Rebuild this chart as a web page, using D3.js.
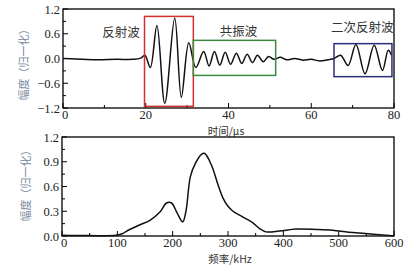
<!DOCTYPE html>
<html>
<head>
<meta charset="utf-8">
<script src="https://cdn.jsdelivr.net/npm/d3@7"></script>
<style>
body { margin: 0; background: #fff; }
svg text { font-family: "Liberation Serif", "Times New Roman", serif; }
.cjk { font-family: "Noto Sans CJK SC", sans-serif; }
</style>
</head>
<body>
<div class="chart"></div>
<script>
var WIDTH = 417,
	HEIGHT = 272;

// time domain waveform (key points)
var timeUs = [0, 3, 8, 13, 17, 18.8, 19.8, 21.1, 22.7, 24.6, 27.0, 28.6, 30.4, 32.1,
	34.0, 35.3, 36.6, 37.9, 39.2, 40.5, 41.9, 43.2, 44.5, 45.8, 47.0, 48.4, 49.7, 51.0,
	52.5, 54, 56, 58, 60, 62, 64, 65.5, 67.1, 68.9, 70.8, 73.0, 75.2, 77.2, 78.6, 79.4];
var amplitude = [0.0, -0.01, -0.03, -0.02, -0.02, 0.01, 0.08, -0.22, 0.8, -1.09, 0.98, -0.94, 0.38, -0.22,
	0.17, -0.18, 0.17, -0.16, 0.15, -0.14, 0.13, -0.12, 0.1, -0.1, 0.08, -0.08, 0.05, -0.02,
	0.03, -0.03, 0.0, -0.04, -0.02, -0.06, -0.03, 0.0, 0.08, -0.17, 0.34, -0.37, 0.32, -0.29, 0.2, 0.08];

// spectrum
var freqKHz = [0, 50, 98, 110, 117, 139, 159, 177, 189, 198, 208, 218, 224, 232, 241, 252, 258,
	270, 282, 291, 300, 309, 327, 345, 357, 369, 393, 423, 460, 489, 518, 548, 585, 600];
var spectrum = [0.01, 0.005, 0.01, 0.03, 0.06, 0.13, 0.19, 0.29, 0.40, 0.40, 0.28, 0.17, 0.30, 0.72, 0.88, 0.99, 1.0,
	0.86, 0.62, 0.46, 0.36, 0.30, 0.23, 0.16, 0.09, 0.05, 0.06, 0.085, 0.08, 0.07, 0.045, 0.03, 0.01, 0.0];

// wave regions: [t0, t1, top, bottom]
var regionNames = ["反射波", "共振波", "二次反射波"];
var regionBoxes = [[19.7, 31.5, 1.02, -1.16], [31.5, 51.4, 0.44, -0.41], [65.5, 79.5, 0.36, -0.44]];
var regionLabelPos = [[14, 0.53], [42.4, 0.55], [72.3, 0.65]];
var regionColors = ["#d03030", "#3a8a3e", "#2c2c7a"];

var timeTicks = [0, 20, 40, 60, 80];
var ampTicks = [-1.2, -0.6, 0, 0.6, 1.2];
var freqTicks = [0, 100, 200, 300, 400, 500, 600];
var specTicks = [0, 0.3, 0.6, 0.9, 1.2];

var svg = d3.select(".chart").append("svg")
	.attr("width", WIDTH)
	.attr("height", HEIGHT);

var drawPanel = function(opt) {
	var x = d3.scaleLinear().domain(opt.xDomain).range([opt.left, opt.right]);
	var y = d3.scaleLinear().domain(opt.yDomain).range([opt.bottom, opt.top]);

	var g = svg.append("g");

	// minor + major ticks, pointing inward
	var xMinor = d3.range(opt.xDomain[0], opt.xDomain[1] + 1e-9, opt.xMinor);
	var yMinor = d3.range(opt.yDomain[0], opt.yDomain[1] + 1e-9, opt.yMinor);

	g.selectAll(".xmt").data(xMinor).enter().append("line")
		.attr("x1", function(d) { return x(d); })
		.attr("x2", function(d) { return x(d); })
		.attr("y1", opt.bottom)
		.attr("y2", function(d) { return opt.xMajor.indexOf(d) >= 0 ? opt.bottom - 5 : opt.bottom - 3; })
		.attr("stroke", "#000").attr("stroke-width", 1);

	g.selectAll(".ymt").data(yMinor).enter().append("line")
		.attr("y1", function(d) { return y(d); })
		.attr("y2", function(d) { return y(d); })
		.attr("x1", opt.left)
		.attr("x2", function(d) {
			var major = opt.yMajor.some(function(m) { return Math.abs(m - d) < 1e-6; });
			return major ? opt.left + 5 : opt.left + 3;
		})
		.attr("stroke", "#000").attr("stroke-width", 1);

	// frame
	g.append("rect")
		.attr("x", opt.left).attr("y", opt.top)
		.attr("width", opt.right - opt.left).attr("height", opt.bottom - opt.top)
		.attr("fill", "none").attr("stroke", "#000").attr("stroke-width", 1.3);

	// tick labels
	g.selectAll(".xl").data(opt.xMajor).enter().append("text")
		.attr("x", function(d) { return x(d) + (d === opt.xDomain[0] ? 2 : 0); })
		.attr("y", opt.bottom + 11)
		.attr("text-anchor", "middle")
		.attr("font-size", 12.5)
		.attr("fill", "#222")
		.text(function(d) { return d; });

	g.selectAll(".yl").data(opt.yMajor).enter().append("text")
		.attr("x", opt.left - 3)
		.attr("y", function(d) { return y(d) + 4.5; })
		.attr("text-anchor", "end")
		.attr("font-size", 12.5)
		.attr("fill", "#222")
		.text(function(d) { return d3.format(".1f")(d); });

	// axis titles
	g.append("text")
		.attr("class", "cjk")
		.attr("x", opt.xTitleX).attr("y", opt.bottom + 27)
		.attr("text-anchor", "middle")
		.attr("font-size", 10.5)
		.attr("fill", "#333")
		.text(opt.xTitle);

	g.append("text")
		.attr("class", "cjk")
		.attr("transform", "translate(" + opt.yTitleX + "," + opt.yTitleY + ") rotate(-90)")
		.attr("text-anchor", "middle")
		.attr("font-size", 11)
		.attr("fill", "#7788a0")
		.text("幅度（归一化）");

	var line = d3.line()
		.curve(d3.curveCatmullRom.alpha(0.5))
		.x(function(d) { return x(d[0]); })
		.y(function(d) { return y(d[1]); });

	g.append("path")
		.attr("d", line(d3.zip(opt.xs, opt.ys)))
		.attr("fill", "none")
		.attr("stroke", "#111")
		.attr("stroke-width", 1.5);

	return { x: x, y: y, g: g };
};

var timePanel = drawPanel({
	left: 63, right: 394, top: 9, bottom: 108,
	xDomain: [0, 80], yDomain: [-1.2, 1.2],
	xMajor: timeTicks, yMajor: ampTicks, xMinor: 10, yMinor: 0.3,
	xs: timeUs, ys: amplitude,
	xTitle: "时间/μs", xTitleX: 226,
	yTitleX: 28, yTitleY: 62
});

timePanel.g.selectAll(".box").data(regionBoxes).enter().append("rect")
	.attr("x", function(d) { return timePanel.x(d[0]); })
	.attr("y", function(d) { return timePanel.y(d[2]); })
	.attr("width", function(d) { return timePanel.x(d[1]) - timePanel.x(d[0]); })
	.attr("height", function(d) { return timePanel.y(d[3]) - timePanel.y(d[2]); })
	.attr("fill", "none")
	.attr("stroke", function(d, i) { return regionColors[i]; })
	.attr("stroke-width", 1.5);

timePanel.g.selectAll(".lbl").data(regionNames).enter().append("text")
	.attr("class", "cjk")
	.attr("x", function(d, i) { return timePanel.x(regionLabelPos[i][0]); })
	.attr("y", function(d, i) { return timePanel.y(regionLabelPos[i][1]); })
	.attr("text-anchor", "middle")
	.attr("font-size", 12.5)
	.attr("fill", "#333")
	.text(function(d) { return d; });

drawPanel({
	left: 62, right: 394, top: 137, bottom: 236,
	xDomain: [0, 600], yDomain: [0, 1.2],
	xMajor: freqTicks, yMajor: specTicks, xMinor: 50, yMinor: 0.15,
	xs: freqKHz, ys: spectrum,
	xTitle: "频率/kHz", xTitleX: 230,
	yTitleX: 30, yTitleY: 183
});
</script>
</body>
</html>
